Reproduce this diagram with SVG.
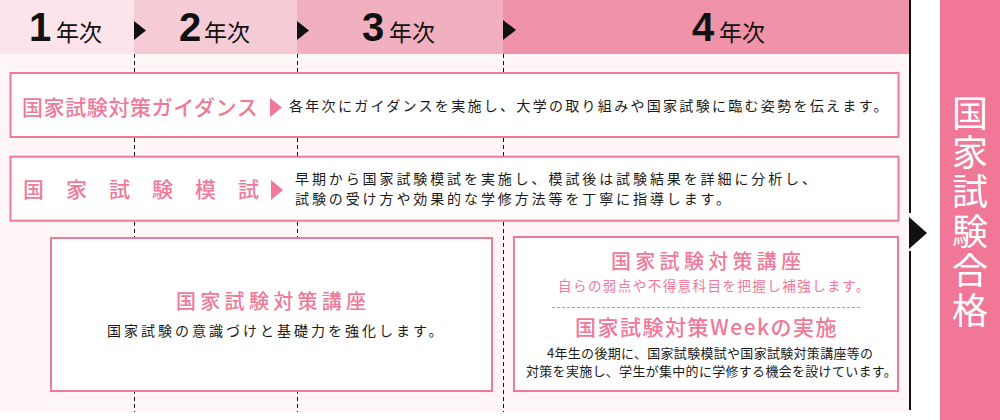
<svg xmlns="http://www.w3.org/2000/svg" width="1000" height="420" viewBox="0 0 1000 420">
<style>
.jp{font-family:"Noto Sans CJK JP","Noto Sans",sans-serif;}
.num{font-family:"Liberation Sans",Arial,sans-serif;font-weight:bold;font-size:40px;fill:#111;}
.yr{font-family:"Noto Sans CJK JP",sans-serif;font-size:23px;fill:#111;}
.box{fill:#fff;stroke:#f07898;stroke-width:2;}
.ttl{font-family:"Noto Sans CJK JP",sans-serif;font-size:21px;font-weight:500;fill:#f07898;}
.ttl2{font-family:"Noto Sans CJK JP",sans-serif;font-size:20px;font-weight:500;fill:#f07898;letter-spacing:4.3px;}
.desc{font-family:"Noto Sans CJK JP",sans-serif;font-size:14px;fill:#1a1a1a;letter-spacing:2.8px;}
.sm{font-family:"Noto Sans CJK JP",sans-serif;font-size:13px;fill:#1a1a1a;letter-spacing:0.3px;}
.dash{stroke:#111;stroke-width:1;stroke-dasharray:4 3;fill:none;}
.tri{fill:#111;}
.ptri{fill:#f07898;}
</style>
<rect x="0" y="0" width="1000" height="420" fill="#fff"/>
<rect x="0" y="54" width="909" height="358" fill="#fff6f8"/>
<g id="header">
<rect x="0" y="0" width="134" height="54" fill="#fde4ea"/>
<rect x="134" y="0" width="163" height="54" fill="#f5ccd5"/>
<rect x="297" y="0" width="206" height="54" fill="#f0b0bf"/>
<rect x="503" y="0" width="406" height="54" fill="#f092a8"/>
<text class="num" x="29" y="41">1</text><text class="yr" x="56" y="40.5">年次</text>
<text class="num" x="179" y="41">2</text><text class="yr" x="204" y="40.5">年次</text>
<text class="num" x="362" y="41">3</text><text class="yr" x="389" y="40.5">年次</text>
<text class="num" x="692" y="41">4</text><text class="yr" x="719" y="40.5">年次</text>
</g>
<g id="connectors">
<line class="dash" x1="134.5" y1="54" x2="134.5" y2="412"/>
<line class="dash" x1="297.5" y1="54" x2="297.5" y2="412"/>
<line class="dash" x1="503.5" y1="54" x2="503.5" y2="412"/>
<polygon class="tri" points="134,21 146,30.5 134,40"/>
<polygon class="tri" points="297,21 309,30.5 297,40"/>
<polygon class="tri" points="503,20 516,30 503,40"/>
<line x1="910" y1="0" x2="910" y2="213" stroke="#111" stroke-width="2"/>
<line x1="910" y1="251" x2="910" y2="410" stroke="#111" stroke-width="2"/>
<polygon class="tri" points="909,217 927,233 909,249"/>
</g>
<g id="guidance">
<rect class="box" x="10.5" y="73" width="888" height="64"/>
<text class="ttl" x="22" y="114.5" style="letter-spacing:0.6px">国家試験対策ガイダンス</text>
<polygon class="ptri" points="270,98 282,107.5 270,117"/>
<text class="desc" x="289" y="110.5" style="letter-spacing:2.3px">各年次にガイダンスを実施し、大学の取り組みや国家試験に臨む姿勢を伝えます。</text>
</g>
<g id="mock">
<rect class="box" x="10.5" y="156.7" width="888" height="64"/>
<text class="ttl" x="23" y="196.5" style="letter-spacing:22px">国家試験模試</text>
<polygon class="ptri" points="271,180 283,190 271,200"/>
<text class="desc" x="295" y="184" style="letter-spacing:2.9px">早期から国家試験模試を実施し、模試後は試験結果を詳細に分析し、</text>
<text class="desc" x="295" y="204" style="letter-spacing:2.9px">試験の受け方や効果的な学修方法等を丁寧に指導します。</text>
</g>
<g id="course">
<rect class="box" x="51" y="238" width="441" height="153"/>
<text class="ttl2" x="176" y="309.3">国家試験対策講座</text>
<text class="desc" x="107" y="336" style="letter-spacing:3px">国家試験の意識づけと基礎力を強化します。</text>
</g>
<g id="course4">
<rect class="box" x="514" y="237" width="384" height="154"/>
<text class="ttl2" x="611" y="268.5">国家試験対策講座</text>
<text class="jp" x="558" y="291" font-size="13.5" fill="#f07898" letter-spacing="1.45">自らの弱点や不得意科目を把握し補強します。</text>
<line x1="552" y1="307.5" x2="862" y2="307.5" stroke="#f07898" stroke-width="1" stroke-dasharray="3 2"/>
<text class="ttl" x="575" y="334.5" style="letter-spacing:1.5px">国家試験対策Weekの実施</text>
<text class="sm" x="547" y="358">4年生の後期に、国家試験模試や国家試験対策講座等の</text>
<text class="sm" x="526" y="376">対策を実施し、学生が集中的に学修する機会を設けています。</text>
</g>
<g id="goal">
<rect x="940" y="0" width="60" height="420" fill="#f07896"/>
<text class="jp" x="970" y="95" font-size="36" fill="#fff" writing-mode="vertical-rl" glyph-orientation-vertical="0" letter-spacing="3.4">国家試験合格</text>
</g>
</svg>
